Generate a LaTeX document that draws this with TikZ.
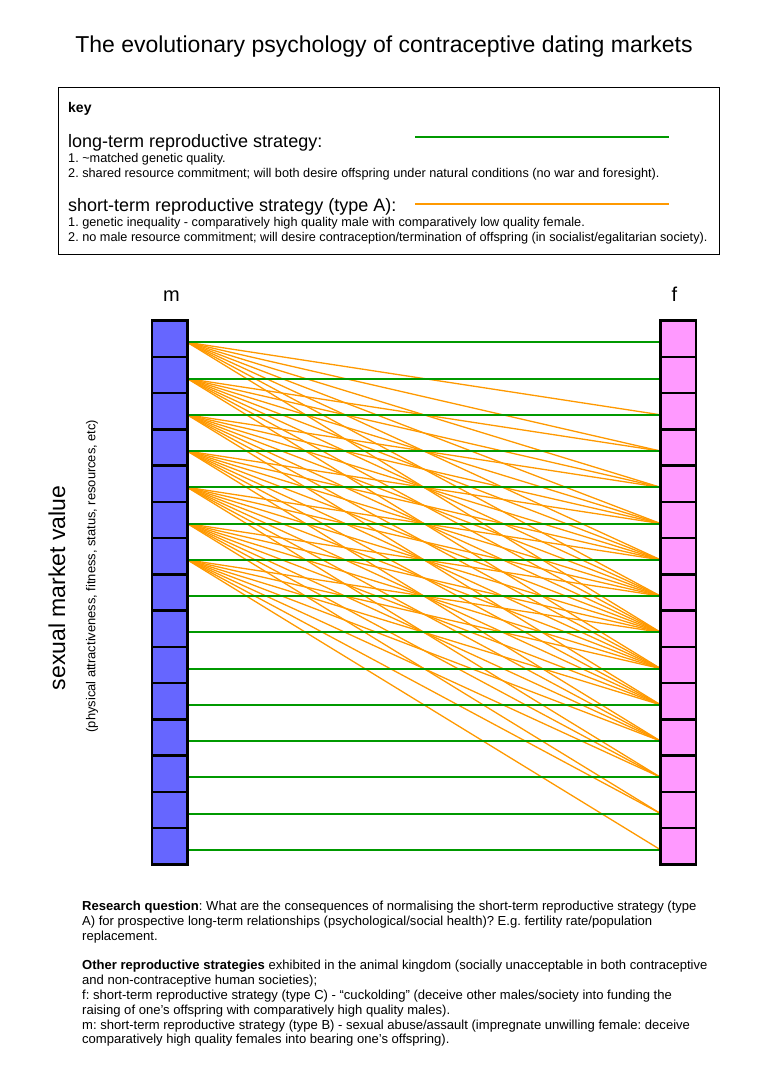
\documentclass[tikz,border=0pt]{standalone}
\usepackage{fontspec}
\setmainfont{Liberation Sans}
\usetikzlibrary{positioning,calc}
\definecolor{mblue}{RGB}{102,102,255}
\definecolor{fpink}{RGB}{255,153,255}
\definecolor{ltgreen}{RGB}{0,153,0}
\definecolor{storange}{RGB}{255,153,0}
\pgfdeclarelayer{bg}
\pgfsetlayers{bg,main}
\frenchspacing
\tikzset{
    cell/.style = {draw, line width=2.5pt, minimum width=35.5pt, minimum height=36.25pt, inner sep=0pt, outer sep=0pt},
    longterm/.style = {draw=ltgreen, line width=2pt},
    shortterm/.style = {draw=storange, line width=1.3pt},
    bigtext/.style = {inner sep=0pt, font=\fontsize{18}{21}\selectfont},
    smalltext/.style = {inner sep=0pt, align=left, font=\fontsize{12.7}{15}\selectfont},
}

\begin{document}
\begin{tikzpicture}[x=1pt, y=-1pt]
        \useasboundingbox (0,0) rectangle (763,1079);
        \node[font=\fontsize{23}{27}\selectfont] (title) at (384,47) {The evolutionary psychology of contraceptive dating markets};
        % key
        \node[draw, line width=1.2pt, minimum width=661pt, minimum height=167pt, anchor=north west] (key) at (58,87) {};
        \node[anchor=base west, inner sep=0pt, font=\bfseries\fontsize{14}{16}\selectfont] (keyt) at (68,112) {key};
        \node[bigtext, anchor=base west] (lt) at (68,147) {long-term reproductive strategy:};
        \node[smalltext, anchor=north west] (ltx) at (68,153.5) {1. \textasciitilde matched genetic quality.\\
            2. shared resource commitment; will both desire offspring under natural conditions (no war and foresight).};
        \node[bigtext, anchor=base west] (st) at (68,211) {short-term reproductive strategy (type A):};
        \node[smalltext, anchor=north west] (stx) at (68,217) {1. genetic inequality - comparatively high quality male with comparatively low quality female.\\
            2. no male resource commitment; will desire contraception/termination of offspring (in socialist/egalitarian society).};
        \coordinate (lta) at (415,137);
        \coordinate (ltb) at (669,137);
        \coordinate (sta) at (415,204);
        \coordinate (stb) at (669,204);
        \draw[longterm] (lta) -- (ltb);
        \draw[shortterm, line width=2pt] (sta) -- (stb);
        % market columns
        \foreach \i in {0,...,14}{
            \node[cell, fill=mblue] (m\i) at (169.5,338.8+36.25*\i) {};
            \node[cell, fill=fpink] (f\i) at (678.3,338.8+36.25*\i) {};
            \coordinate (mp\i) at ($(m\i.east)+(0,3.5)$);
            \coordinate (fp\i) at ($(f\i.west)+(0,3.5)$);
        }
        \node[above=16pt of m0, xshift=2pt, font=\fontsize{20}{24}\selectfont] (mlab) {m};
        \node[above=16pt of f0, xshift=-4pt, font=\fontsize{20}{24}\selectfont] (flab) {f};
        \begin{pgfonlayer}{bg}
            \foreach \i in {0,...,6}
                \foreach \j in {2,...,8}{
                    \pgfmathtruncatemacro\k{\i+\j}
                    \draw[shortterm] (mp\i) -- (fp\k);
                }
            \foreach \i in {0,...,14}
                \draw[longterm] (mp\i) -- (fp\i);
        \end{pgfonlayer}
        % axis labels
        \node[rotate=90, font=\fontsize{23}{27}\selectfont] (smv) at (57,588) {sexual market value};
        \node[rotate=90, font=\fontsize{12.9}{15}\selectfont] (smvx) at (92,576) {(physical attractiveness, fitness, status, resources, etc)};
        % notes
        \node[anchor=north west, inner sep=0pt, align=left, font=\fontsize{13.05}{14.8}\selectfont] (notes) at (82,901) {\textbf{Research question}: What are the consequences of normalising the short-term reproductive strategy (type\\
            A) for prospective long-term relationships (psychological/social health)? E.g. fertility rate/population\\
            replacement.\\[14.8pt]
            \textbf{Other reproductive strategies} exhibited in the animal kingdom (socially unacceptable in both contraceptive\\
            and non-contraceptive human societies);\\
            f: short-term reproductive strategy (type C) - “cuckolding” (deceive other males/society into funding the\\
            raising of one’s offspring with comparatively high quality males).\\
            m: short-term reproductive strategy (type B) - sexual abuse/assault (impregnate unwilling female: deceive\\
            comparatively high quality females into bearing one’s offspring).};
\end{tikzpicture}
\end{document}
